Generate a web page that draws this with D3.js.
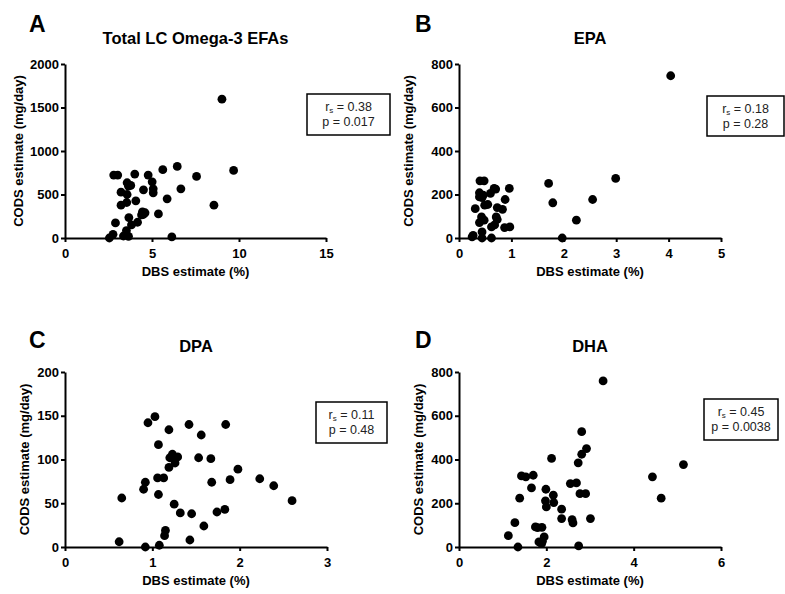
<!DOCTYPE html>
<html>
<head>
<meta charset="utf-8">
<script src="https://cdn.jsdelivr.net/npm/d3@7"></script>
<style>
  body { margin: 0; background: #fff; }
  svg { display: block; }
  text { font-family: 'Liberation Sans', Arial, sans-serif; }
</style>
</head>
<body>
<main></main>
<script>
// values
var panelLetters = ["A", "B", "C", "D"];
var panelTitles = ["Total LC Omega-3 EFAs", "EPA", "DPA", "DHA"];
var xMaxes = [15, 5, 3, 6];
var xTickVals = [[0, 5, 10, 15], [0, 1, 2, 3, 4, 5], [0, 1, 2, 3], [0, 2, 4, 6]];
var yMaxes = [2000, 800, 200, 800];
var yTickVals = [[0, 500, 1000, 1500, 2000], [0, 200, 400, 600, 800], [0, 50, 100, 150, 200], [0, 200, 400, 600, 800]];
var rsValues = ["0.38", "0.18", "0.11", "0.45"];
var pValues = ["0.017", "0.28", "0.48", "0.0038"];

var totalPoints = [[9.02,1596],[9.69,777],[6.45,823],[5.62,785],[7.56,708],[6.66,565],[5.87,450],[8.56,377],
  [5.37,277],[6.14,12],[4.78,723],[5.01,646],[5.07,565],[5.07,519],[4.51,554],[4.01,735],[4.07,427],
  [4.45,300],[4.5,270],[4.6,290],[4.4,265],[4.17,181],[3.82,150],[3.67,235],[3.57,635],[3.78,604],
  [3.65,596],[3.57,500],[3.55,408],[3.22,527],[3.22,377],[2.8,723],[3.03,723],[2.9,173],[2.76,42],
  [2.55,0],[3.36,23],[3.65,19],[3.53,85]];
var epaPoints = [[4.04,746],[2.99,274],[2.55,177],[2.24,82],[1.97,0],[1.71,251],[1.79,162],[0.96,228],
  [0.97,51],[0.87,48],[0.88,177],[0.83,132],[0.73,140],[0.67,228],[0.70,225],[0.71,97],[0.73,85],
  [0.6,205],[0.55,154],[0.49,151],[0.68,60],[0.62,51],[0.48,82],[0.43,97],[0.39,71],[0.44,28],[0.44,0],
  [0.62,0],[0.25,5],[0.27,12],[0.31,135],[0.4,263],[0.48,263],[0.39,208],[0.39,189],[0.44,186],[0.46,197]];
var dpaPoints = [[0.65,56],[0.62,6],[0.92,0],[0.95,142],[1.03,149],[0.92,74],[0.9,66],[1.06,79],[1.07,117],
  [1.07,60],[1.08,2],[1.13,79],[1.14,13],[1.15,19],[1.19,134],[1.2,102],[1.19,91],[1.23,106],[1.25,102],
  [1.29,103],[1.26,96],[1.25,49],[1.32,39],[1.42,140],[1.43,8],[1.45,38],[1.53,102],[1.56,128],[1.59,24],
  [1.67,101],[1.68,74],[1.74,40],[1.83,43],[1.84,140],[1.89,77],[1.98,89],[2.23,78],[2.39,70],[2.6,53]];
var dhaPoints = [[3.3,759],[5.14,377],[4.43,321],[4.63,223],[2.81,527],[2.92,450],[2.81,424],[2.73,385],
  [2.55,290],[2.69,293],[2.77,244],[2.9,244],[3.01,130],[2.74,5],[2.59,125],[2.61,110],[2.35,173],
  [2.35,130],[2.12,405],[2.16,237],[2.17,203],[1.99,264],[1.98,211],[2.0,183],[1.7,328],[1.66,270],
  [1.43,325],[1.53,321],[1.39,223],[1.28,111],[1.13,52],[1.35,0],[1.75,92],[1.8,89],[1.9,90],[1.95,46],
  [1.83,23],[1.89,15],[1.91,26]];
var allPoints = [totalPoints, epaPoints, dpaPoints, dhaPoints];

// where each panel sits on the page
var layout = [
  {x0: 65, x1: 326, top: 64, bot: 238, letterX: 29, letterY: 32, yLabDx: -42.5, box: [307, 94, 83, 41]},
  {x0: 459, x1: 721, top: 64, bot: 238, letterX: 415, letterY: 32, yLabDx: -46.5, box: [707, 96, 77, 40]},
  {x0: 65, x1: 327, top: 372, bot: 547, letterX: 29, letterY: 348, yLabDx: -36.5, box: [316, 402, 71, 41]},
  {x0: 459, x1: 721, top: 372, bot: 547, letterX: 415, letterY: 348, yLabDx: -36, box: [704, 399, 74, 41]}
];

var svg = d3.select("main")
  .append("svg")
  .attr("width", 785)
  .attr("height", 594);

panelLetters.forEach(function(letter, i) {
  var L = layout[i];
  var g = svg.append("g");

  var xScale = d3.scaleLinear().domain([0, xMaxes[i]]).range([L.x0, L.x1]);
  var yScale = d3.scaleLinear().domain([0, yMaxes[i]]).range([L.bot, L.top]);

  g.append("text")
    .attr("x", L.letterX)
    .attr("y", L.letterY)
    .style("font-size", "23px")
    .style("font-weight", "bold")
    .text(letter);

  g.append("text")
    .attr("x", (L.x0 + L.x1) / 2)
    .attr("y", L.top - 20)
    .attr("text-anchor", "middle")
    .style("font-size", "16.5px")
    .style("font-weight", "bold")
    .text(panelTitles[i]);

  var xAxis = d3.axisBottom(xScale).tickValues(xTickVals[i]).tickFormat(d3.format("d"))
    .tickSize(4).tickSizeOuter(0).tickPadding(7);
  var yAxis = d3.axisLeft(yScale).tickValues(yTickVals[i]).tickFormat(d3.format("d"))
    .tickSize(4).tickSizeOuter(0).tickPadding(2);

  var gx = g.append("g")
    .attr("transform", "translate(0," + L.bot + ")")
    .call(xAxis);
  var gy = g.append("g")
    .attr("transform", "translate(" + L.x0 + ",0)")
    .call(yAxis);

  [gx, gy].forEach(function(a) {
    a.select(".domain").attr("stroke", "#000").attr("stroke-width", 2);
    a.selectAll(".tick line").attr("stroke", "#000").attr("stroke-width", 2);
    a.selectAll(".tick text")
      .attr("fill", "#000")
      .style("font-family", "'Liberation Sans', Arial, sans-serif")
      .style("font-size", "13px")
      .style("font-weight", "bold");
  });

  g.append("text")
    .attr("x", (L.x0 + L.x1) / 2)
    .attr("y", L.bot + 38)
    .attr("text-anchor", "middle")
    .style("font-size", "13px")
    .style("font-weight", "bold")
    .text("DBS estimate (%)");

  g.append("text")
    .attr("transform", "translate(" + (L.x0 + L.yLabDx) + "," + ((L.top + L.bot) / 2) + ") rotate(-90)")
    .attr("text-anchor", "middle")
    .style("font-size", "13px")
    .style("font-weight", "bold")
    .text("CODS estimate (mg/day)");

  g.selectAll(".dot")
    .data(allPoints[i])
    .enter()
    .append("circle")
    .attr("class", "dot")
    .attr("cx", function(d) { return xScale(d[0]); })
    .attr("cy", function(d) { return yScale(d[1]); })
    .attr("r", 4.4)
    .style("fill", "#000");

  // stats box
  var b = L.box;
  g.append("rect")
    .attr("x", b[0])
    .attr("y", b[1])
    .attr("width", b[2])
    .attr("height", b[3])
    .style("fill", "#fff")
    .style("stroke", "#000")
    .style("stroke-width", 1.5);

  var t1 = g.append("text")
    .attr("x", b[0] + b[2] / 2)
    .attr("y", b[1] + 17)
    .attr("text-anchor", "middle")
    .style("font-size", "12.5px")
    .style("fill", "#222");
  t1.append("tspan").text("r");
  t1.append("tspan").attr("dy", 2).style("font-size", "8px").text("s");
  t1.append("tspan").attr("dy", -2).text(" = " + rsValues[i]);

  g.append("text")
    .attr("x", b[0] + b[2] / 2)
    .attr("y", b[1] + 32)
    .attr("text-anchor", "middle")
    .style("font-size", "12.5px")
    .style("fill", "#222")
    .text("p = " + pValues[i]);
});
</script>
</body>
</html>
